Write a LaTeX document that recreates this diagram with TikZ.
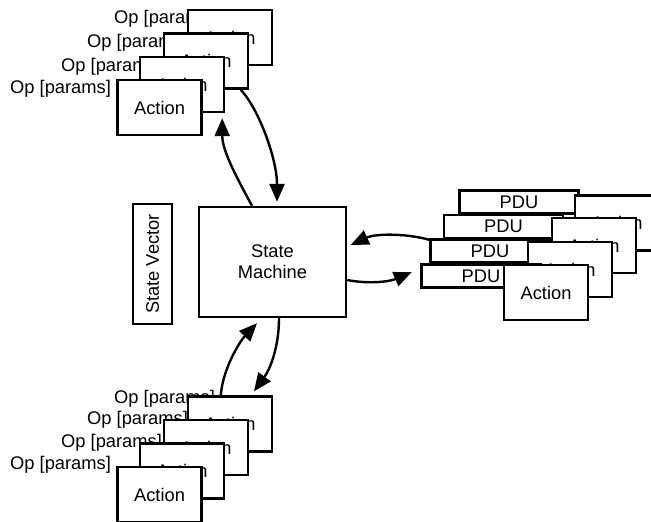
\documentclass[tikz,border=0pt]{standalone}
\usepackage{fontspec}
\setmainfont{Liberation Sans}
\usetikzlibrary{arrows.meta}
\begin{document}
\begin{tikzpicture}[x=1bp,y=-1bp,
  font=\fontsize{18.3bp}{21bp}\selectfont,
  box/.style={draw,line width=2.4bp,fill=white,inner sep=0pt,minimum width=84bp,minimum height=55bp},
  pdubox/.style={draw,line width=2.4bp,fill=white,inner sep=0pt,minimum width=119bp,minimum height=23bp},
  oplabel/.style={anchor=west,inner sep=0pt},
  arr/.style={line width=2.4bp,-{Triangle[length=18bp,width=15bp]}}]
\useasboundingbox (0,0) rectangle (651,522);
\clip (0,0) rectangle (651,522);

% top group
\node[oplabel] (tl4) at (114,19) {Op [params]};
\node[oplabel] (tl3) at (87,43) {Op [params]};
\node[oplabel] (tl2) at (61,67) {Op [params]};
\node[oplabel] (tl1) at (10,89) {Op [params]};
\node[box] (t4) at (230,37.5) {Action};
\node[box] (t3) at (206,61) {Action};
\node[box] (t2) at (182,84.5) {Action};
\node[box] (t1) at (159.5,107.5) {Action};

% bottom group
\node[oplabel] (bl4) at (114,399) {Op [params]};
\node[oplabel] (bl3) at (87,420) {Op [params]};
\node[oplabel] (bl2) at (61,443) {Op [params]};
\node[oplabel] (bl1) at (10,465) {Op [params]};
\node[box] (b4) at (230,424) {Action};
\node[box] (b3) at (206,447.5) {Action};
\node[box] (b2) at (182,471) {Action};
\node[box] (b1) at (159.5,494.5) {Action};

% right group
\node[pdubox] (p4) at (519,202) {PDU};
\node[box] (a4) at (617,223) {Action};
\node[pdubox] (p3) at (503.5,226.5) {PDU};
\node[box] (a3) at (594,245.5) {Action};
\node[pdubox] (p2) at (490,251) {PDU};
\node[box] (a2) at (570,269.5) {Action};
\node[pdubox] (p1) at (481,276) {PDU};
\node[box] (a1) at (546,292.5) {Action};

% centre
\node[draw,line width=2.4bp,inner sep=0pt,minimum width=147bp,minimum height=110bp,align=center] (sm) at (272.5,262) {State\\Machine};
\node[draw,line width=2.4bp,inner sep=0pt,rotate=90,minimum width=120bp,minimum height=39bp] (sv) at (152.5,264) {State Vector};

% arrows
\draw[arr] ([xshift=-20.5bp]sm.north) .. controls +(-14,-26) and +(0,33) .. ([xshift=-3bp,yshift=-5bp]t2.south east);
\draw[arr] ([xshift=-8.5bp]t3.south east) .. controls +(18,19) and +(0,-43) .. ([xshift=4.5bp,yshift=4bp]sm.north);
\draw[arr] ([xshift=34bp]b4.north west) .. controls +(2,-27) and +(-17,18) .. ([xshift=-15.5bp,yshift=-5bp]sm.south);
\draw[arr] ([xshift=6.5bp]sm.south) .. controls +(0,29) and +(16,-22) .. ([xshift=24bp,yshift=4bp]b4.north);
\draw[arr] ([yshift=-1.5bp]p2.north west) .. controls +(-21,-6) and +(26,-12) .. ([xshift=3.5bp,yshift=17bp]sm.east);
\draw[arr] ([yshift=-18bp]sm.east) .. controls +(20,4) and +(-23,10) .. ([xshift=-8.5bp,yshift=4bp]p1.west);
\end{tikzpicture}
\end{document}
